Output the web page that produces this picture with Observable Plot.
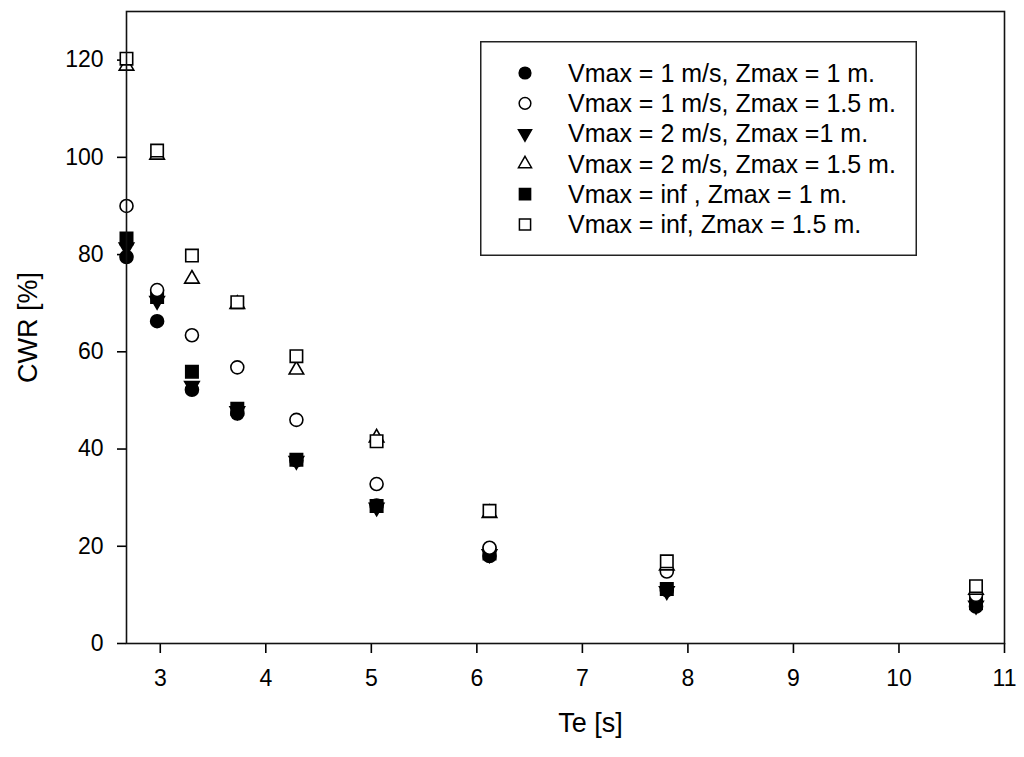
<!DOCTYPE html>
<html>
<head>
<meta charset="utf-8">
<script src="https://cdn.jsdelivr.net/npm/d3@7"></script>
<script src="https://cdn.jsdelivr.net/npm/@observablehq/plot@0.6"></script>
<style>
  html, body { margin: 0; padding: 0; background: #fff; }
  #wrap { position: relative; width: 1024px; height: 757px; font-family: "Liberation Sans", Arial, sans-serif; }
  #legend { position: absolute; left: 480px; top: 41px; }
</style>
</head>
<body>
<div id="wrap">
  <div id="chart"></div>
  <div id="legend"></div>
</div>
<script>
// ---- data ----
const te = [2.68, 2.97, 3.30, 3.73, 4.29, 5.05, 6.12, 7.80, 10.73];

const v1z1   = [79.5, 66.3, 52.2, 47.3, 37.7, 28.4, 18.0, 11.0, 7.6];   // filled circle
const v1z15  = [90.0, 72.7, 63.4, 56.8, 46.0, 32.8, 19.7, 14.8, 10.0];  // open circle
const v2z1   = [81.5, 70.5, 53.0, 47.8, 37.6, 28.0, 18.4, 10.8, 7.8];   // filled triangle down
const v2z15  = [118.8, 100.5, 75.0, 69.8, 56.3, 42.3, 26.8, 16.0, 11.0]; // open triangle up
const vinfz1 = [83.3, 71.3, 55.9, 48.3, 37.8, 28.3, 18.5, 11.2, 8.3];   // filled square
const vinfz15 = [120.3, 101.4, 79.8, 70.2, 59.1, 41.6, 27.3, 16.9, 11.8]; // open square

const legendLabels = [
  "Vmax = 1 m/s, Zmax = 1 m.",
  "Vmax = 1 m/s, Zmax = 1.5 m.",
  "Vmax = 2 m/s, Zmax =1 m.",
  "Vmax = 2 m/s, Zmax = 1.5 m.",
  "Vmax = inf , Zmax = 1 m.",
  "Vmax = inf, Zmax = 1.5 m."
];
const xTicks = [3, 4, 5, 6, 7, 8, 9, 10, 11];
const yTicks = [0, 20, 40, 60, 80, 100, 120];
const xLabel = "Te [s]";
const yLabel = "CWR [%]";

// ---- symbols ----
const sqrt3 = Math.sqrt(3);
const triangleDown = {
  draw(context, size) {
    const y = -Math.sqrt(size / (sqrt3 * 3));
    context.moveTo(0, -y * 2);
    context.lineTo(-sqrt3 * y, y);
    context.lineTo(sqrt3 * y, y);
    context.closePath();
  }
};

const series = [
  {label: legendLabels[0], values: v1z1,    symbol: d3.symbolCircle,   fill: "black", r: 6.5},
  {label: legendLabels[1], values: v1z15,   symbol: d3.symbolCircle,   fill: "white", r: 6.5},
  {label: legendLabels[2], values: v2z1,    symbol: triangleDown,      fill: "black", r: 5.4},
  {label: legendLabels[3], values: v2z15,   symbol: d3.symbolTriangle, fill: "white", r: 5.4},
  {label: legendLabels[4], values: vinfz1,  symbol: d3.symbolSquare,   fill: "black", r: 7.0},
  {label: legendLabels[5], values: vinfz15, symbol: d3.symbolSquare,   fill: "white", r: 7.0}
];

// drawing order: filled first, then open symbols on top
const drawOrder = [4, 2, 0, 1, 3, 5];

const dotMarks = drawOrder.map(i => {
  const s = series[i];
  const rows = te.map((t, j) => ({te: t, cwr: s.values[j]}));
  return Plot.dot(rows, {
    x: "te", y: "cwr", r: s.r, symbol: s.symbol,
    fill: s.fill, stroke: "black", strokeWidth: 1.6
  });
});

const chart = Plot.plot({
  width: 1024,
  height: 757,
  marginLeft: 126,
  marginRight: 20,
  marginTop: 11,
  marginBottom: 114,
  style: {fontFamily: "'Liberation Sans', Arial, sans-serif", background: "white", color: "black"},
  x: {domain: [2.68, 11]},
  y: {domain: [0, 130]},
  marks: [
    Plot.axisX({ticks: xTicks, tickSize: 10, tickPadding: 16, fontSize: 23, strokeWidth: 1.6, label: null}),
    Plot.axisY({ticks: yTicks, tickSize: 9, tickPadding: 14, fontSize: 23, strokeWidth: 1.6, label: null}),
    ...dotMarks,
    Plot.frame({stroke: "#111", strokeWidth: 1.6}),
    Plot.text([xLabel], {frameAnchor: "bottom", text: d => d, dy: 88, dx: 25, fontSize: 27, fill: "black", textAnchor: "middle"}),
    Plot.text([yLabel], {frameAnchor: "left", text: d => d, dx: -98, rotate: -90, fontSize: 27, fill: "black", textAnchor: "middle"})
  ]
});
document.getElementById("chart").appendChild(chart);

// ---- legend (inside the plot area, top right) ----
const lw = 437, lh = 215;
const lsvg = d3.select("#legend").append("svg")
  .attr("width", lw).attr("height", lh)
  .style("display", "block")
  .style("font-family", "'Liberation Sans', Arial, sans-serif");
lsvg.append("rect")
  .attr("x", 0.75).attr("y", 0.75).attr("width", lw - 1.5).attr("height", lh - 1.5)
  .attr("fill", "white").attr("stroke", "#222").attr("stroke-width", 1.5);
const rowG = lsvg.selectAll("g.row").data(series).join("g")
  .attr("class", "row")
  .attr("transform", (d, i) => `translate(0,${32 + i * 30.3})`);
rowG.append("path")
  .attr("transform", "translate(45,0)")
  .attr("d", d => d3.symbol(d.symbol, Math.PI * (d.r * 0.9) * (d.r * 0.9))())
  .attr("fill", d => d.fill)
  .attr("stroke", "black")
  .attr("stroke-width", 1.5);
rowG.append("text")
  .attr("x", 88).attr("y", 0).attr("dy", "0.35em")
  .attr("font-size", 25)
  .attr("fill", "black")
  .text(d => d.label);
</script>
</body>
</html>
